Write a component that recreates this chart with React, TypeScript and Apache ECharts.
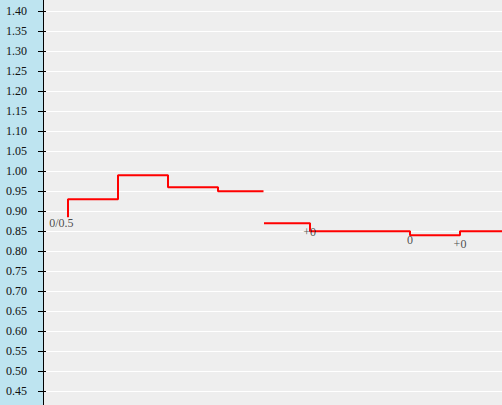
import React, { useEffect, useRef } from "react";
import * as echarts from "echarts";

// Y-axis tick values (odds)
const yMin = 0.4;
const yMax = 1.45;
const yStep = 0.05;

// Pre-match segment: time index and odds
const seg1Times = [0, 1, 2, 3, 3.91];
const seg1Odds = [0.885, 0.93, 0.99, 0.96, 0.95];

// Live segment: time index and odds
const seg2Times = [3.92, 4.84, 6.84, 7.84, 8.68];
const seg2Odds = [0.87, 0.87, 0.85, 0.84, 0.85];

// Handicap annotations
const noteTimes = [-0.134, 4.834, 6.84, 7.84];
const noteValues = [0.8708, 0.8483, 0.829, 0.8183];
const noteTexts = ["0/0.5", "+0", "0", "+0"];

const xMin = -0.5;
const xMax = 8.68;

const FONT = "'Liberation Serif', 'Times New Roman', serif";

export default function App() {
  const ref = useRef<HTMLDivElement>(null);
  useEffect(() => {
    if (!ref.current) return;
    document.body.style.margin = "0";
    document.body.style.overflow = "hidden";
    const chart = echarts.init(ref.current, undefined, { renderer: "svg" });
    const seg1 = seg1Times.map((t, i) => [t, seg1Odds[i]]);
    const seg2 = seg2Times.map((t, i) => [t, seg2Odds[i]]);
    const notes = noteTimes.map((t, i) => ({ value: [t, noteValues[i]], name: noteTexts[i] }));
    chart.setOption({
      animation: false,
      backgroundColor: "#bee4f0",
      grid: {
        left: 43,
        right: 0,
        top: -8.7,
        bottom: -6.3,
        containLabel: false,
        outerBoundsMode: "none",
        show: true,
        backgroundColor: "#eeeeee",
        borderWidth: 0,
      },
      xAxis: {
        type: "value",
        min: xMin,
        max: xMax,
        show: false,
      },
      yAxis: [
        {
          type: "value",
          min: yMin,
          max: yMax,
          interval: yStep,
          position: "left",
          axisLine: { show: true, onZero: false, lineStyle: { color: "#000", width: 1 } },
          axisTick: { show: true, inside: false, length: 5, lineStyle: { color: "#000", width: 1 } },
          axisLabel: {
            show: true,
            formatter: (v: number) => v.toFixed(2),
            fontFamily: FONT,
            fontSize: 12,
            color: "#111",
            margin: 16,
            verticalAlign: "middle",
            padding: [0, 0, 8, 0],
            showMinLabel: true,
            showMaxLabel: false,
          },
          splitLine: { show: true, lineStyle: { color: "#ffffff", width: 1 } },
        },
        {
          type: "value",
          min: yMin,
          max: yMax,
          interval: yStep,
          position: "left",
          offset: 0,
          axisLine: { show: false, onZero: false },
          axisTick: { show: true, inside: true, length: 3, lineStyle: { color: "#000", width: 1 } },
          axisLabel: { show: false },
          splitLine: { show: false },
        },
      ],
      series: [
        {
          type: "line",
          data: seg1,
          step: "start",
          symbol: "none",
          lineStyle: { color: "#ff0000", width: 2 },
          z: 3,
        },
        {
          type: "line",
          data: seg2,
          step: "start",
          symbol: "none",
          lineStyle: { color: "#ff0000", width: 2 },
          z: 3,
        },
        {
          type: "scatter",
          data: notes,
          symbolSize: 0,
          z: 4,
          label: {
            show: true,
            position: "inside",
            formatter: (p: any) => p.name,
            fontFamily: FONT,
            fontSize: 12,
            color: "#222",
          },
        },
      ],
    });
    return () => chart.dispose();
  }, []);
  return (
    <div
      ref={ref}
      style={{ position: "absolute", left: 0, top: 0, width: 502, height: 405 }}
    />
  );
}
